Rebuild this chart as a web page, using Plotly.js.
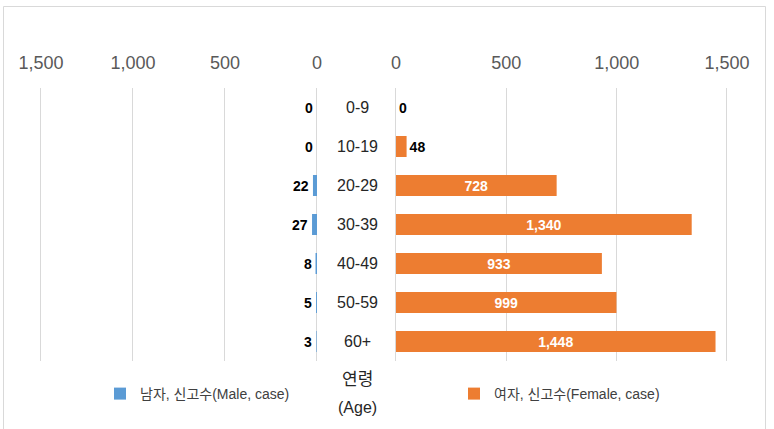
<!DOCTYPE html>
<html>
<head>
<meta charset="utf-8">
<script src="https://cdn.plot.ly/plotly-3.0.1.min.js"></script>
<style>html,body{margin:0;padding:0;background:#fff;}#chart{width:774px;height:429px;}</style>
</head>
<body>
<div id="chart"></div>
<script>
const ageGroups = ['0-9', '10-19', '20-29', '30-39', '40-49', '50-59', '60+'];
const maleCases = [0, 0, 22, 27, 8, 5, 3];
const femaleCases = [0, 48, 728, 1340, 933, 999, 1448];
const tickValues = [0, 500, 1000, 1500];
const tickLabels = ['0', '500', '1,000', '1,500'];
const maleName = '남자, 신고수(Male, case)';
const femaleName = '여자, 신고수(Female, case)';
const centerTitleKo = '연령';
const centerTitleEn = '(Age)';

const W = 774, H = 429;
const FONT = '"Liberation Sans", Arial, "Noto Sans CJK KR", sans-serif';
const fmt = v => v.toLocaleString('en-US');

const femaleInside = femaleCases.map(v => v > 300);

const male = {
  type: 'bar', orientation: 'h',
  y: ageGroups, x: maleCases,
  xaxis: 'x', yaxis: 'y',
  name: maleName, legend: 'legend',
  marker: {color: '#5B9BD5'},
  width: 0.54,
  hoverinfo: 'x+y'
};
const female = {
  type: 'bar', orientation: 'h',
  y: ageGroups, x: femaleCases,
  xaxis: 'x2', yaxis: 'y',
  name: femaleName, legend: 'legend2',
  marker: {color: '#ED7D31'},
  width: 0.54,
  text: femaleCases.map(fmt),
  textposition: femaleInside.map(b => b ? 'inside' : 'outside'),
  insidetextanchor: 'middle',
  insidetextfont: {family: FONT, size: 14, color: '#fff', weight: 'bold'},
  outsidetextfont: {family: FONT, size: 14, color: '#000', weight: 'bold'},
  constraintext: 'none',
  cliponaxis: false,
  hoverinfo: 'x+y'
};

const xCommon = {
  side: 'top', showgrid: true, gridcolor: '#d9d9d9', gridwidth: 1,
  zeroline: false, showline: false, ticks: '',
  tickvals: tickValues, ticktext: tickLabels,
  tickfont: {family: FONT, size: 18, color: '#595959'},
  ticklabelstandoff: 14, fixedrange: true
};

// pixel geometry of the two panels (value 0..1500), padded a little so edge gridlines draw
const padU = 6;
const Lpx = [41, 317], Rpx = [396, 727];
const lScale = (Lpx[1] - Lpx[0]) / 1500, rScale = (Rpx[1] - Rpx[0]) / 1500;

const yTop = 88, yBot = 361;
const legendY = (H - 394) / H;

// male value labels, placed just beyond the bar end on the (reversed) male axis
const maleLabels = maleCases.map((v, i) => ({
  xref: 'x', yref: 'y', x: v, y: ageGroups[i], text: fmt(v), showarrow: false,
  xanchor: 'right', yanchor: 'middle', xshift: -2,
  font: {family: FONT, size: 14, color: '#000', weight: 'bold'}
}));
const ageLabels = ageGroups.map(g => ({
  xref: 'paper', yref: 'y', x: 357 / W, y: g, text: g, showarrow: false,
  xanchor: 'center', yanchor: 'middle',
  font: {family: FONT, size: 16, color: '#262626'}
}));

const layout = {
  width: W, height: H,
  margin: {l: 0, r: 0, t: 0, b: 0},
  paper_bgcolor: '#fff', plot_bgcolor: 'rgba(0,0,0,0)',
  font: {family: FONT, color: '#404040'},
  barmode: 'overlay',
  xaxis: Object.assign({}, xCommon, {
    domain: [(Lpx[0] - padU * lScale) / W, (Lpx[1] + padU * lScale) / W],
    range: [1500 + padU, -padU], anchor: 'y'}),
  xaxis2: Object.assign({}, xCommon, {
    domain: [(Rpx[0] - padU * rScale) / W, (Rpx[1] + padU * rScale) / W],
    range: [-padU, 1500 + padU], anchor: 'y'}),
  yaxis: {
    domain: [(H - yBot) / H, (H - yTop) / H],
    type: 'category', autorange: 'reversed',
    showticklabels: false, showgrid: false, zeroline: false, showline: false, ticks: '',
    anchor: 'x', fixedrange: true
  },
  legend: {
    orientation: 'h', x: 100 / W, y: legendY, xanchor: 'left', yanchor: 'middle',
    font: {family: FONT, size: 14, color: '#404040'}, bgcolor: 'rgba(0,0,0,0)'
  },
  legend2: {
    orientation: 'h', x: 454 / W, y: legendY, xanchor: 'left', yanchor: 'middle',
    font: {family: FONT, size: 14, color: '#404040'}, bgcolor: 'rgba(0,0,0,0)'
  },
  annotations: maleLabels.concat(ageLabels).concat([{
    xref: 'paper', yref: 'paper', x: 357 / W, y: (H - 379) / H, text: centerTitleKo,
    showarrow: false, xanchor: 'center', yanchor: 'middle',
    font: {family: FONT, size: 17, color: '#262626'}
  }, {
    xref: 'paper', yref: 'paper', x: 357 / W, y: (H - 407) / H, text: centerTitleEn,
    showarrow: false, xanchor: 'center', yanchor: 'middle',
    font: {family: FONT, size: 16, color: '#262626'}
  }]),
  shapes: [{
    type: 'path', xref: 'paper', yref: 'paper', layer: 'below',
    path: 'M ' + (3.5 / W) + ' -0.05 L ' + (3.5 / W) + ' ' + ((H - 6.5) / H) +
          ' L ' + (765.5 / W) + ' ' + ((H - 6.5) / H) + ' L ' + (765.5 / W) + ' -0.05',
    line: {color: '#d9d9d9', width: 1}
  }],
  showlegend: true
};

Plotly.newPlot('chart', [male, female], layout, {displayModeBar: false, staticPlot: true});
</script>
</body>
</html>
